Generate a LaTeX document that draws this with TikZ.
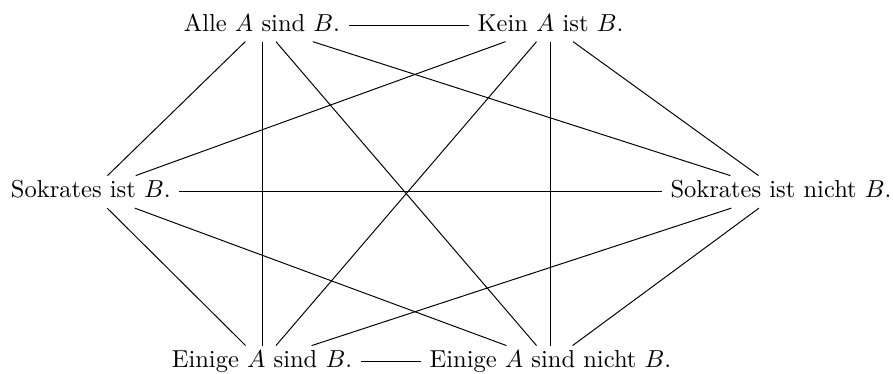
\documentclass[tikz,border=0pt]{standalone}
\begin{document}
\begin{tikzpicture}[x=0.408pt,y=-0.408pt,
  stmt/.style={anchor=base, inner xsep=3.33pt, inner ysep=2pt, text height=6.94pt, text depth=1.94pt},
  conn/.style={line width=0.4pt, black}]
\useasboundingbox (0,0) rectangle (893,374);
\node[stmt] (alle)  at (262,31.5)  {Alle $A$ sind $B$.};
\node[stmt] (kein)  at (550.5,31.5) {Kein $A$ ist $B$.};
\node[stmt] (sok)   at (90.8,198) {Sokrates ist $B$.};
\node[stmt] (sokn)  at (781,198) {Sokrates ist nicht $B$.};
\node[stmt] (ein)   at (262,368) {Einige $A$ sind $B$.};
\node[stmt] (einn)  at (550.5,368) {Einige $A$ sind nicht $B$.};
\foreach \a/\b in {alle/kein, alle/sok, alle/ein, alle/einn, alle/sokn,
                   kein/sok, kein/ein, kein/einn, kein/sokn,
                   sok/sokn, sok/ein, sok/einn,
                   sokn/ein, sokn/einn, ein/einn}
  \draw[conn] (\a) -- (\b);
\end{tikzpicture}
\end{document}
